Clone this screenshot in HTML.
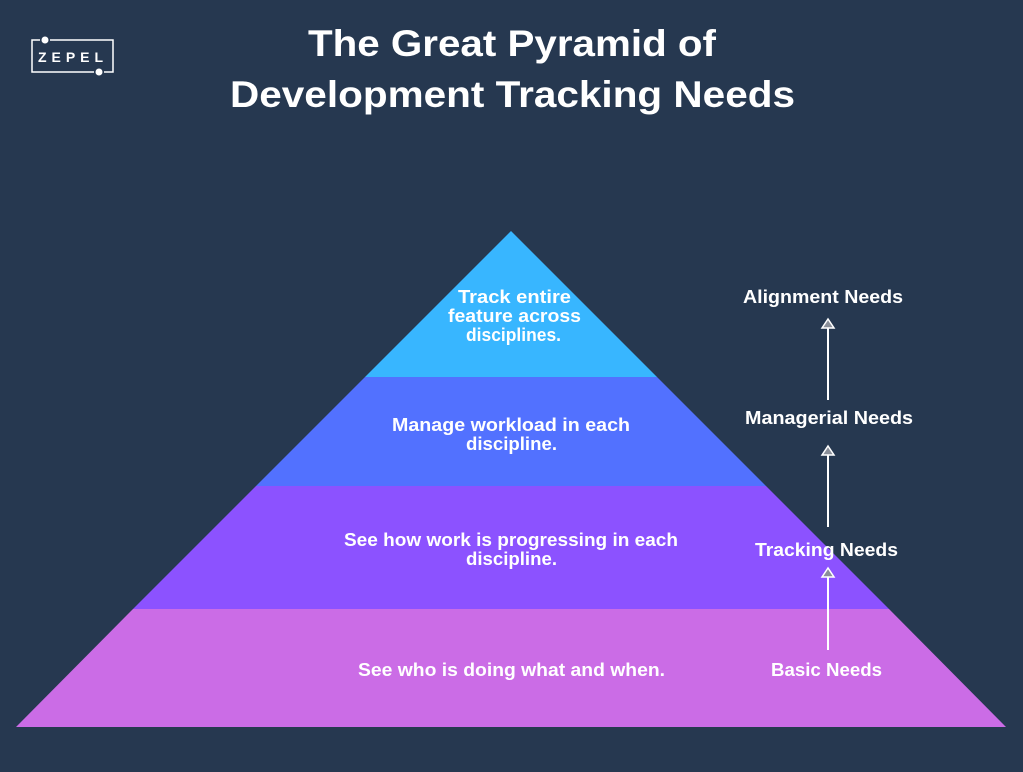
<!DOCTYPE html>
<html><head><meta charset="utf-8"><style>
html,body{margin:0;padding:0;background:#263850;}
body{width:1023px;height:767px;overflow:hidden;font-family:"Liberation Sans",sans-serif;}
svg text{font-family:"Liberation Sans",sans-serif;font-weight:bold;fill:#fff;}
</style></head><body>
<svg width="1023" height="767" viewBox="0 0 1023 767">
<rect width="1023" height="767" fill="#263850"/>
<g stroke="#fff" stroke-width="1.5" fill="none">
<path d="M40 40 L32 40 L32 72 L94 72"/>
<path d="M50 40 L113 40 L113 72 L104 72"/>
<circle cx="45" cy="40" r="3.5" fill="#fff" stroke="none"/>
<circle cx="99" cy="72" r="3.5" fill="#fff" stroke="none"/>
</g>
<text x="73" y="62" font-size="14" text-anchor="middle" letter-spacing="5" font-weight="normal">ZEPEL</text>
<text x="308" y="56" font-size="37" textLength="408" lengthAdjust="spacingAndGlyphs">The Great Pyramid of</text>
<text x="230" y="107" font-size="37" textLength="565" lengthAdjust="spacingAndGlyphs">Development Tracking Needs</text>
<polygon points="511,231 657,377 365,377" fill="#38b6ff"/>
<polygon points="365,377 657,377 766,486 256,486" fill="#5271ff"/>
<polygon points="256,486 766,486 889,609 133,609" fill="#8c52ff"/>
<polygon points="133,609 889,609 1006,727 16,727" fill="#cb6ce6"/>
<g font-size="18">
<text x="458" y="303" textLength="113" lengthAdjust="spacingAndGlyphs">Track entire</text>
<text x="448" y="322" textLength="133" lengthAdjust="spacingAndGlyphs">feature across</text>
<text x="466" y="341" textLength="95" lengthAdjust="spacingAndGlyphs">disciplines.</text>
<text x="392" y="431" textLength="238" lengthAdjust="spacingAndGlyphs">Manage workload in each</text>
<text x="466" y="450" textLength="91" lengthAdjust="spacingAndGlyphs">discipline.</text>
<text x="344" y="546" textLength="334" lengthAdjust="spacingAndGlyphs">See how work is progressing in each</text>
<text x="466" y="565" textLength="91" lengthAdjust="spacingAndGlyphs">discipline.</text>
<text x="358" y="676" textLength="307" lengthAdjust="spacingAndGlyphs">See who is doing what and when.</text>
<text x="743" y="303" textLength="160" lengthAdjust="spacingAndGlyphs">Alignment Needs</text>
<text x="745" y="424" textLength="168" lengthAdjust="spacingAndGlyphs">Managerial Needs</text>
<text x="755" y="556" textLength="143" lengthAdjust="spacingAndGlyphs">Tracking Needs</text>
<text x="771" y="676" textLength="111" lengthAdjust="spacingAndGlyphs">Basic Needs</text>
</g>
<g stroke="#fff" stroke-width="2" fill="#8a8f99">
<line x1="828" y1="400" x2="828" y2="328"/><polygon points="828,319 822,328 834,328" stroke-width="1.5"/>
<line x1="828" y1="527" x2="828" y2="455"/><polygon points="828,446 822,455 834,455" stroke-width="1.5"/>
<line x1="828" y1="650" x2="828" y2="577"/><polygon points="828,568 822,577 834,577" stroke-width="1.5"/>
</g>
</svg>
</body></html>
